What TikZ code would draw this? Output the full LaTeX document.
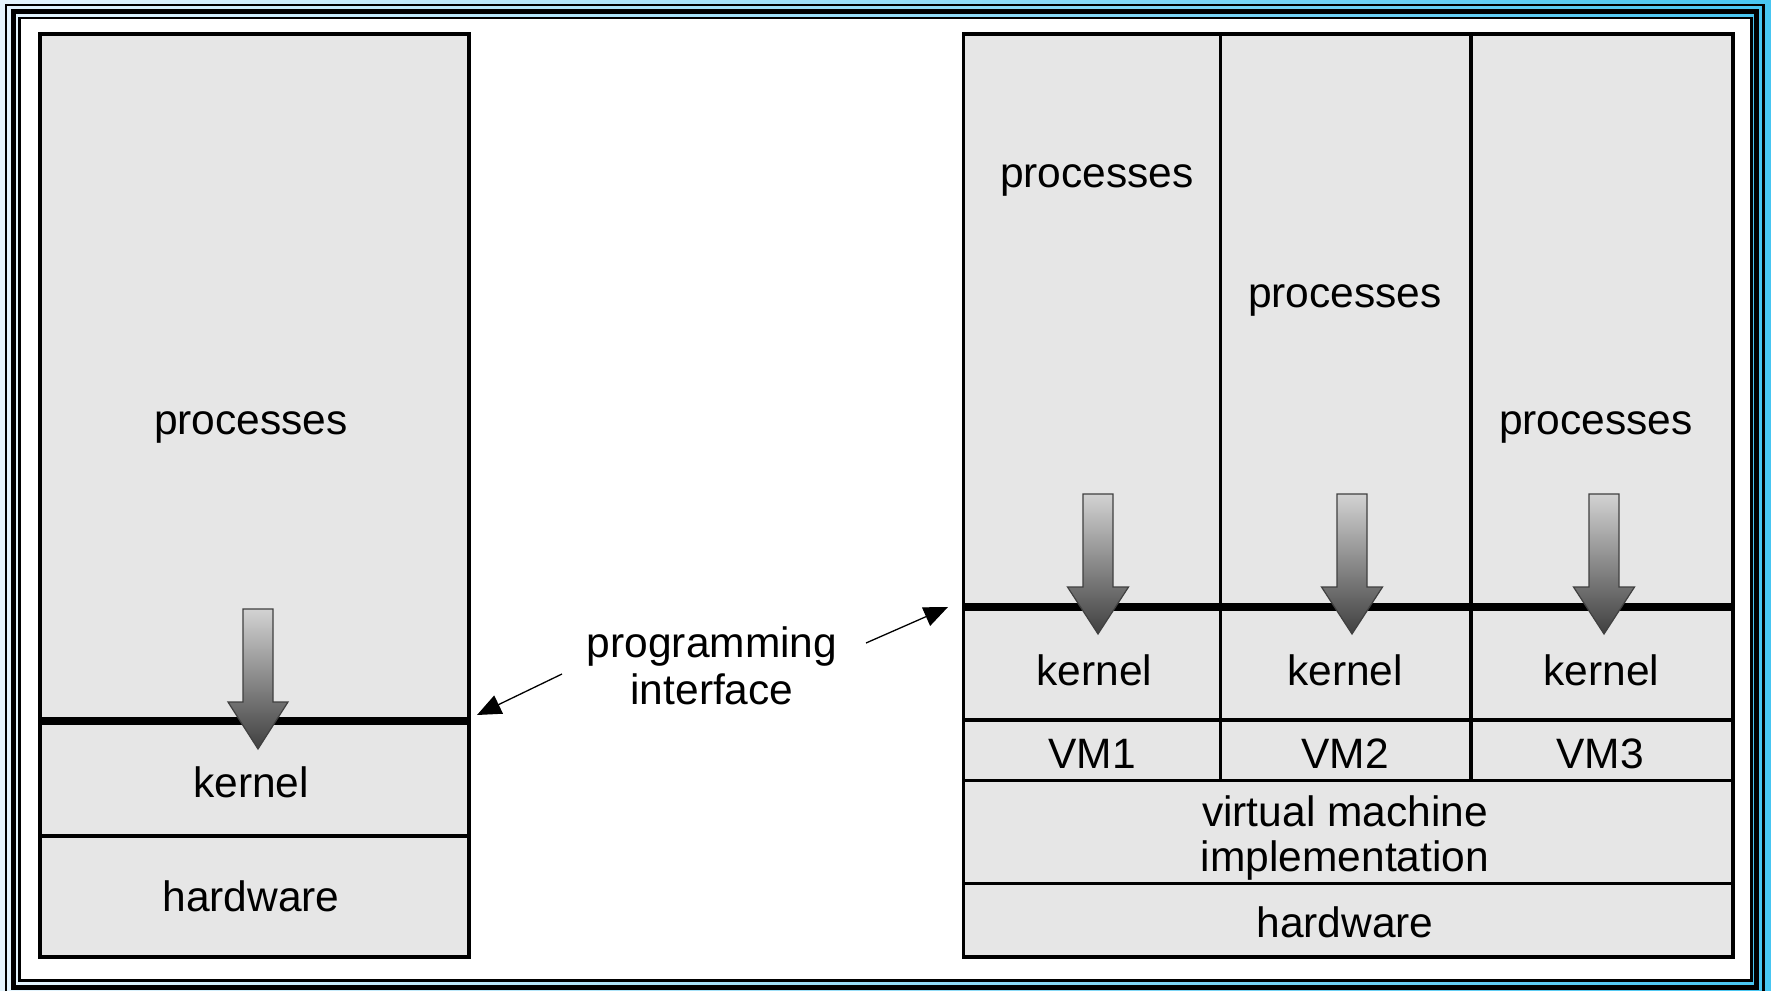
\documentclass[tikz,border=0pt]{standalone}
\usepackage{fontspec}
\setmainfont{Liberation Sans}
\usetikzlibrary{arrows.meta}
\definecolor{boxgray}{HTML}{E6E6E6}
\definecolor{bgL}{HTML}{E4F4FD}
\definecolor{bgR}{HTML}{48C6F2}
\begin{document}
\begin{tikzpicture}[x=1pt,y=-1pt,
  box/.style={draw=black, line width=3.5pt, fill=boxgray},
  sepline/.style={line width=3.5pt},
  thicksep/.style={line width=8pt},
  lbl/.style={font=\fontsize{42.5}{46}\selectfont, align=center, inner sep=0pt},
  downarrow/.style={draw=black!75, line width=1.2pt, top color=gray!35, bottom color=black!75},
  iface/.style={-{Triangle[length=24pt,width=20pt]}, line width=1.3pt}]
\useasboundingbox (0,0) rectangle (1771,990);
% frame
\begin{scope}
\clip (0,0) rectangle (1771,990);
\shade[left color=bgL, right color=bgR] (0,0) rectangle (1771,999);
\draw[line width=2.5pt] (6,5) rectangle (1763.5,994);
\draw[line width=5pt] (13.5,11.5) rectangle (1756,987);
\draw[line width=2.5pt] (19.5,18) rectangle (1751.5,980.5);
\fill[white] (21,19.5) rectangle (1750,979);
\end{scope}
% left machine
\draw[box] (40,34) rectangle (469,957);
\draw[sepline] (40,836) -- (469,836);
\draw[thicksep] (40,721) -- (469,721);
\path[downarrow] (243,609) -- (273,609) -- (273,702) -- (288,702) -- (258,749) -- (228,702) -- (243,702) -- cycle;
\node[lbl] (lproc) at (251,427) {processes};
\node[lbl] (lkern) at (251,782) {kernel};
\node[lbl] (lhw) at (251,896) {hardware};
% right machine
\draw[box] (963.5,34) rectangle (1733,957);
\draw[sepline] (1220.5,34) -- (1220.5,780.5);
\draw[sepline] (1471,34) -- (1471,780.5);
\draw[sepline] (963.5,720) -- (1733,720);
\draw[sepline] (963.5,780.5) -- (1733,780.5);
\draw[sepline] (963.5,883.5) -- (1733,883.5);
\draw[thicksep] (963.5,606.5) -- (1733,606.5);
\foreach \c in {1098,1352,1604}{
  \path[downarrow] (\c-15,494) -- (\c+15,494) -- (\c+15,587) -- (\c+30.5,587) -- (\c,634) -- (\c-30.5,587) -- (\c-15,587) -- cycle;
}
\node[lbl] (p1) at (1097,180) {processes};
\node[lbl] (p2) at (1345,300) {processes};
\node[lbl] (p3) at (1596,427) {processes};
\node[lbl] (k1) at (1094.5,670) {kernel};
\node[lbl] (k2) at (1345,670) {kernel};
\node[lbl] (k3) at (1601.5,670) {kernel};
\node[lbl] (vm1) at (1092,753.5) {VM1};
\node[lbl] (vm2) at (1345,753.5) {VM2};
\node[lbl] (vm3) at (1600,753.5) {VM3};
\node[lbl, font=\fontsize{42.5}{44.5}\selectfont] (vmi) at (1345,838) {virtual machine\\implementation};
\node[lbl] (rhw) at (1345,922) {hardware};
% programming interface
\node[lbl, font=\fontsize{42.5}{47}\selectfont] (pi) at (712,666) {programming\\interface};
\coordinate (ltail) at (562,674);
\coordinate (lhead) at (477,715);
\coordinate (rtail) at (866,643);
\coordinate (rhead) at (948,607);
\draw[iface] (ltail) -- (lhead);
\draw[iface] (rtail) -- (rhead);
\end{tikzpicture}
\end{document}
